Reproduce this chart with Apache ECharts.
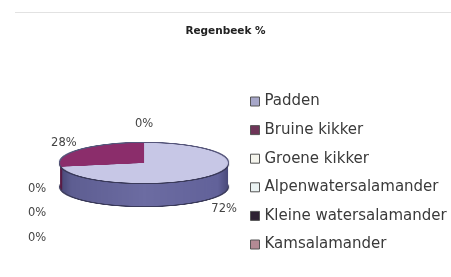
<!DOCTYPE html>
<html>
<head>
<meta charset="utf-8">
<script src="https://cdn.jsdelivr.net/npm/echarts@6/dist/echarts.min.js"></script>
<style>
  html, body { margin: 0; padding: 0; background: #fff; }
  #wrap { position: relative; width: 451px; height: 277px; overflow: hidden; }
  /* pie body: drawn as a circle and stretched sideways into the 3D ellipse */
  #pie3d { position: absolute; left: 18px; top: 133px; width: 60px; height: 80px;
           transform: scaleX(4.2); transform-origin: 0 0; }
  #main { position: absolute; left: 0; top: 0; width: 451px; height: 277px; }
</style>
</head>
<body>
<div id="wrap">
  <div id="pie3d"></div>
  <div id="main"></div>
</div>
<script>
// data
const categories = ['Padden', 'Bruine kikker', 'Groene kikker', 'Alpenwatersalamander', 'Kleine watersalamander', 'Kamsalamander'];
const percentages = [72, 28, 0, 0, 0, 0];

// colours
const topColors = ['#c7c7e6', '#8b2d6b', '#f4f4ec', '#eaf2f2', '#2e2233', '#b38a94'];
const sideColors = [
  new echarts.graphic.LinearGradient(0, 0, 1, 0, [
    { offset: 0, color: '#4a4a7a' }, { offset: 0.06, color: '#5e5e92' },
    { offset: 0.5, color: '#6c6ca2' }, { offset: 0.94, color: '#62629a' },
    { offset: 1, color: '#4a4a7a' }
  ]),
  '#5a1c46', '#d8d8d0', '#c8d0d0', '#1e1622', '#8a6670'
];
const legendColors = ['#a6a6c8', '#6e3558', '#f4f4ec', '#eaf2f2', '#2e2233', '#b38a94'];
const edge = '#3a3a5a';

const DEPTH = 23;   // side height in px
const R = 20;       // radius before the horizontal stretch

function layer(offset, radius, colors) {
  return {
    type: 'pie',
    center: [30, 30 + offset],
    radius: radius,
    startAngle: 90,
    clockwise: true,
    silent: true,
    animation: false,
    avoidLabelOverlap: false,
    label: { show: false },
    labelLine: { show: false },
    emphasis: { disabled: true },
    itemStyle: { borderWidth: 0 },
    data: categories.map((name, i) => ({
      name: name,
      value: percentages[i],
      itemStyle: { color: Array.isArray(colors) ? colors[i] : colors }
    }))
  };
}

const bodySeries = [];
bodySeries.push(layer(DEPTH + 1, R + 0.25, edge));
for (let o = DEPTH; o >= 2; o--) {
  bodySeries.push(layer(o, R, sideColors));
}
bodySeries.push(layer(1, R + 0.25, edge));
bodySeries.push(layer(-1, R + 0.25, '#55557a'));
bodySeries.push(layer(0, R, topColors));

const body = echarts.init(document.getElementById('pie3d'), null, { devicePixelRatio: 4 });
body.setOption({ animation: false, series: bodySeries });

// labels + legend + title
const LCX = 144, LCY = 176, SQUASH = 0.5;
const chart = echarts.init(document.getElementById('main'));
chart.setOption({
  animation: false,
  title: {
    text: 'Regenbeek %',
    left: 'center',
    top: 21,
    textStyle: { fontFamily: 'DejaVu Sans', fontSize: 10.5, fontWeight: 'bold', color: '#222' }
  },
  legend: {
    orient: 'vertical',
    left: 250,
    top: 93,
    padding: 0,
    itemGap: 11.6,
    itemWidth: 9,
    itemHeight: 9,
    selectedMode: false,
    textStyle: { fontFamily: 'DejaVu Sans', fontSize: 15, color: '#3a3a3a', lineHeight: 17 },
    data: categories.map((name, i) => ({
      name: name,
      icon: 'rect',
      itemStyle: { color: legendColors[i], borderColor: '#555', borderWidth: 1, opacity: 1 }
    }))
  },
  graphic: [{
    type: 'line',
    shape: { x1: 15, y1: 12.5, x2: 451, y2: 12.5 },
    style: { stroke: '#e2e2e2', lineWidth: 1 }
  }],
  series: [{
    type: 'pie',
    center: [LCX, LCY],
    radius: [96, 106],
    startAngle: 90,
    clockwise: true,
    silent: true,
    avoidLabelOverlap: false,
    itemStyle: { borderWidth: 0 },
    label: {
      show: true,
      position: 'inside',
      formatter: p => p.value + '%',
      fontFamily: 'DejaVu Sans',
      fontSize: 11.5,
      color: '#444'
    },
    labelLine: { show: false },
    labelLayout: function (params) {
      const r = params.labelRect;
      const lx = r.x + r.width / 2;
      const ly = r.y + r.height / 2;
      if (percentages[params.dataIndex] === 0) {
        // first zero stays at the top, the rest are stacked at the left
        const k = categories.slice(0, params.dataIndex).filter((c, j) => percentages[j] === 0).length;
        if (k > 0) {
          return { x: 37, y: 189 + (k - 1) * 24.5, align: 'center', verticalAlign: 'middle' };
        }
      }
      return { x: lx, y: LCY + (ly - LCY) * SQUASH, align: 'center', verticalAlign: 'middle' };
    },
    data: categories.map((name, i) => ({
      name: name,
      value: percentages[i],
      itemStyle: { color: 'rgba(0,0,0,0)' }
    }))
  }]
});
</script>
</body>
</html>
